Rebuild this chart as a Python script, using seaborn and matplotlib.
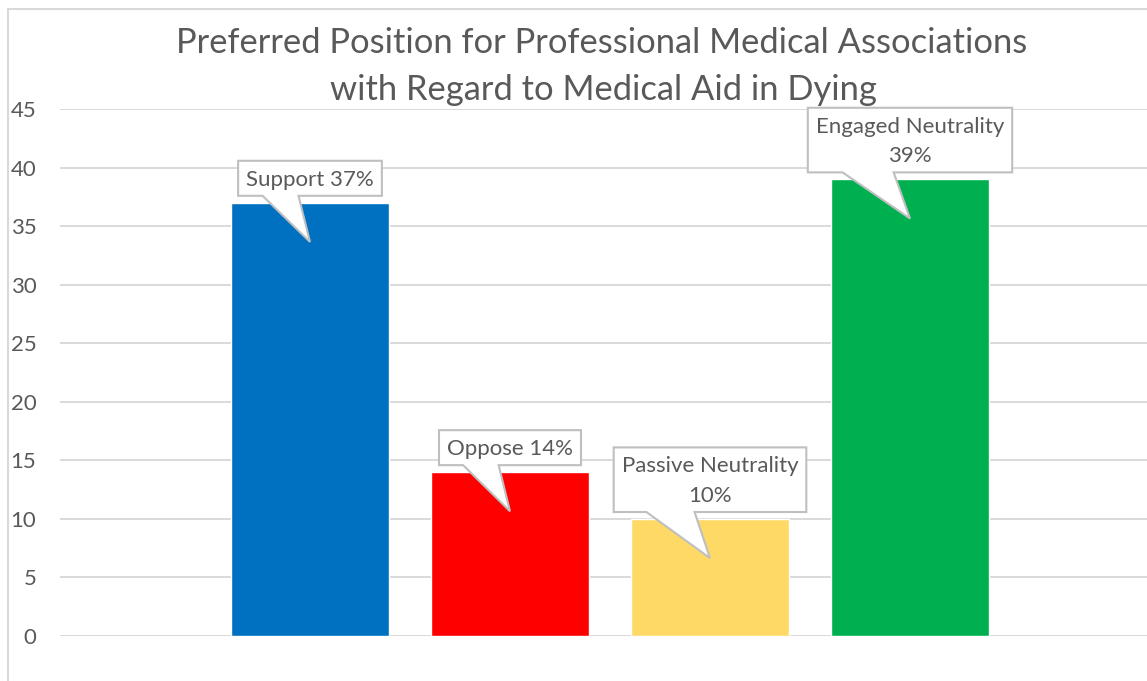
import matplotlib
matplotlib.use("Agg")
import matplotlib.pyplot as plt
import seaborn as sns
import pandas as pd
from matplotlib.patches import Polygon, Rectangle

# data
categories = ["Support", "Oppose", "Passive Neutrality", "Engaged Neutrality"]
values = [37, 14, 10, 39]
labels = ["Support 37%", "Oppose 14%", "Passive Neutrality\n10%", "Engaged Neutrality\n39%"]
colors = ["#0070C0", "#FF0000", "#FFD966", "#00B050"]
yticks = [0, 5, 10, 15, 20, 25, 30, 35, 40, 45]
title_lines = ["Preferred Position for Professional Medical Associations",
               "with Regard to Medical Aid in Dying"]

sns.set_style("white")
plt.rcParams["font.family"] = ["Lato", "DejaVu Sans"]
grey = "#595959"

W, H = 1147, 681
fig = plt.figure(figsize=(W / 100, H / 100), dpi=100)
ax = fig.add_axes([60 / W, 45 / H, 1100 / W, 527 / H])

df = pd.DataFrame({"category": categories, "value": values})
sns.barplot(data=df, x="category", y="value", hue="category", palette=colors,
            order=categories, hue_order=categories, width=0.79, saturation=1,
            legend=False, ax=ax, zorder=2)

ax.set_xlim(-1.25, 4.25)
ax.set_ylim(0, 45)
ax.set_yticks(yticks)
ax.yaxis.grid(True, color="#d9d9d9", linewidth=1.4, zorder=0)
ax.set_axisbelow(True)
for s in ax.spines.values():
    s.set_visible(False)
ax.set_xticks([])
ax.set_xlabel("")
ax.set_ylabel("")
ax.tick_params(axis="y", length=0, pad=17, labelsize=16, labelcolor=grey)

# chart frame (only left/top visible in the crop)
fig.add_artist(Rectangle((8 / W, -0.2), 1.2, 1.2 - 9 / H, transform=fig.transFigure,
                         fill=False, edgecolor="#d9d9d9", linewidth=1.5))

fig.text(602 / W, 1 - 53 / H, title_lines[0], ha="center", va="baseline",
         fontsize=24.8, color=grey)
fig.text(603 / W, 1 - 100 / H, title_lines[1], ha="center", va="baseline",
         fontsize=24.8, color=grey)

# callouts
texts = []
for i, (v, lab) in enumerate(zip(values, labels)):
    t = ax.text(i, v + 1.1, lab, ha="center", va="bottom", fontsize=16,
                color=grey, linespacing=1.6, zorder=5)
    texts.append(t)

fig.canvas.draw()
r = fig.canvas.get_renderer()
inv = ax.transData.inverted()
for i, (v, t) in enumerate(zip(values, texts)):
    bb = t.get_window_extent(r)
    x0, x1 = bb.x0 - 8, bb.x1 + 8
    y0, y1 = bb.y0 - 6, bb.y1 + 9
    w = x1 - x0
    tip = ax.transData.transform((i, v - 3.35))
    pts_px = [(x0, y1), (x1, y1), (x1, y0), (x0 + 0.42 * w, y0), tuple(tip),
              (x0 + 0.17 * w, y0), (x0, y0)]
    pts = inv.transform(pts_px)
    ax.add_patch(Polygon(pts, closed=True, facecolor="white", edgecolor="#bfbfbf",
                         linewidth=1.5, zorder=4, clip_on=False))

fig.savefig("out.png", dpi=100)
